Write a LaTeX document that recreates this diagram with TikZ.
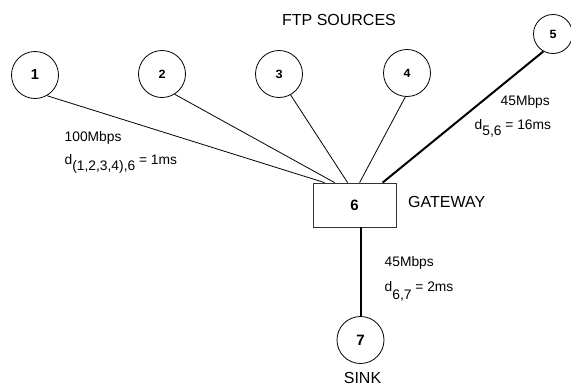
\documentclass[tikz,border=0pt]{standalone}
\usepackage{fontspec}
\setmainfont{Liberation Sans}
\newfontfamily\monofnt{Liberation Mono}
\begin{document}
\begin{tikzpicture}[x=1pt,y=-1pt,
  src/.style={circle,draw,line width=0.8pt,inner sep=0pt,minimum size=47pt},
  boxnode/.style={draw=black!80,line width=0.8pt,inner sep=0pt,minimum width=83pt,minimum height=44pt},
  thinlink/.style={line width=0.8pt},
  thicklink/.style={line width=2pt},
  biglabel/.style={inner sep=0pt,font=\fontsize{16}{18}\selectfont},
  linklabel/.style={inner sep=0pt,anchor=base west,font=\fontsize{13.8}{16}\selectfont},
  sansnum/.style={font=\fontsize{14.5}{16}\selectfont\bfseries},
  mononum/.style={font=\fontsize{12.5}{14}\selectfont\monofnt\bfseries}
]
\useasboundingbox (0,0) rectangle (571,389);
% nodes
\node[src,sansnum] (c1) at (35,75) {1};
\node[src,mononum] (c2) at (162,74) {2};
\node[src,mononum] (c3) at (279,74) {3};
\node[src,mononum] (c4) at (407,73) {4};
\node[src,mononum,minimum size=39pt] (c5) at (553,34) {5};
\node[boxnode,font=\fontsize{15}{16}\selectfont\bfseries] (b6) at (354.5,205) {6};
\node[src,sansnum,font=\fontsize{15}{16}\selectfont\bfseries] (c7) at (360.5,340) {7};
% attachment points on top of the gateway box
\coordinate (t1) at ([xshift=12pt]b6.north west);
\coordinate (t2) at ([xshift=22pt]b6.north west);
\coordinate (t3) at ([xshift=35pt]b6.north west);
\coordinate (t4) at ([xshift=47pt]b6.north west);
\coordinate (t5) at ([xshift=70pt]b6.north west);
% links
\draw[thinlink] (c1.-60) -- (t1);
\draw[thinlink] (c2.-58) -- (t2);
\draw[thinlink] (c3.-61) -- (t3);
\draw[thinlink] (c4.-94) -- (t4);
\draw[thicklink] (c5.-119) -- (t5);
\draw[thicklink] (b6.south -| c7) -- (c7.north);
% labels
\node[biglabel,anchor=base] (ftp) at (339,25.3) {FTP SOURCES};
\node[biglabel,anchor=base west] (gw) at (408,207.3) {GATEWAY};
\node[biglabel,anchor=base] (sink) at (362.5,383.3) {SINK};
\node[linklabel] (l1a) at (64.5,141.7) {100Mbps};
\node[linklabel] (l1b) at (64.5,164) {d\raisebox{-6.5pt}{(1,2,3,4),6} = 1ms};
\node[linklabel] (l5a) at (500.5,105) {45Mbps};
\node[linklabel] (l5b) at (474.5,129.3) {d\raisebox{-6.5pt}{5,6} = 16ms};
\node[linklabel] (l7a) at (384.5,266) {45Mbps};
\node[linklabel] (l7b) at (384.5,291) {d\raisebox{-8pt}{6,7} = 2ms};
\end{tikzpicture}
\end{document}
